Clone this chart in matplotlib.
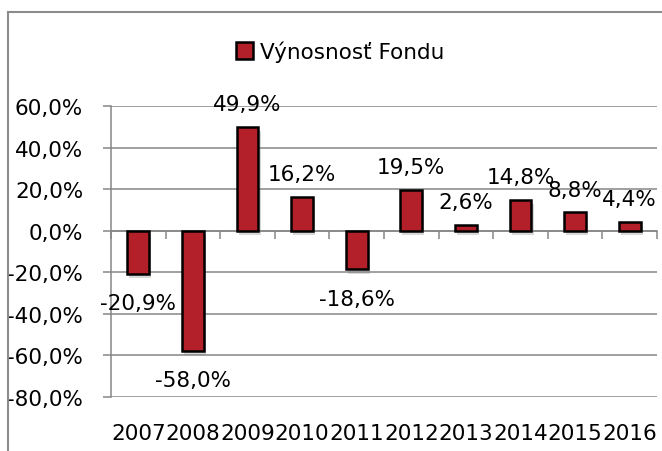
import matplotlib
matplotlib.use("Agg")
import matplotlib.pyplot as plt
import matplotlib.patheffects as pe
from matplotlib.lines import Line2D
import numpy as np

# data
years = ["2007", "2008", "2009", "2010", "2011", "2012", "2013", "2014", "2015", "2016"]
returns = [-20.9, -58.0, 49.9, 16.2, -18.6, 19.5, 2.6, 14.8, 8.8, 4.4]
series_name = "Výnosnosť Fondu"

bar_color = "#B3202A"
grid_color = "#868686"
font_size = 15.5

plt.rcParams["font.family"] = ["DejaVu Sans"]

fig = plt.figure(figsize=(6.62, 4.52), dpi=100)
ax = fig.add_axes([111 / 662, 1 - 398 / 452, (657 - 111) / 662, (398 - 107) / 452])

x = np.arange(len(years))
bars = ax.bar(x, returns, width=0.4, color=bar_color, edgecolor="black",
              linewidth=1.8, label=series_name, zorder=3)
for b in bars:
    b.set_path_effects([pe.SimplePatchShadow(offset=(1.5, -3), shadow_rgbFace="gray", alpha=0.3),
                        pe.Normal()])

# value labels outside the bar ends
for xi, v in zip(x, returns):
    off = 16.5 if v >= 0 else -21
    ax.annotate(f"{v:.1f}%".replace(".", ","), (xi, v), xytext=(0, off),
                textcoords="offset points", ha="center", va="center",
                fontsize=font_size, zorder=4)

ax.set_xlim(-0.5, len(years) - 0.5)
ax.set_ylim(-80, 60)
ax.set_yticks(np.arange(-80, 61, 20))
ax.set_yticklabels([f"{t:.1f}%".replace(".", ",") for t in np.arange(-80, 61, 20)],
                   fontsize=font_size)
ax.tick_params(axis="y", length=6, width=1.1, color=grid_color, pad=14)
ax.yaxis.grid(True, color=grid_color, linewidth=1.1, zorder=0)
ax.set_axisbelow(True)

ax.set_xticks(x)
ax.set_xticklabels(years, fontsize=font_size)
ax.tick_params(axis="x", length=0, pad=19)

for side in ["top", "right", "bottom"]:
    ax.spines[side].set_visible(False)
ax.spines["left"].set_color(grid_color)
ax.spines["left"].set_linewidth(1.1)

# category axis line drawn at zero with tick marks between categories
zero_ax = ax.secondary_xaxis(0, transform=ax.transData)
zero_ax.set_xticks(np.arange(-0.5, len(years), 1.0))
zero_ax.set_xticklabels([])
zero_ax.tick_params(length=6, width=1.1, color=grid_color, direction="out")
zero_ax.spines["bottom"].set_color(grid_color)
zero_ax.spines["bottom"].set_linewidth(1.1)

leg = fig.legend(loc="center", bbox_to_anchor=(0.514, 1 - 52 / 452), frameon=False,
                 fontsize=font_size, handlelength=0.8, handleheight=0.8, handletextpad=0.3)
for h in leg.legend_handles:
    h.set_path_effects([])

# outer chart border
fig.add_artist(Line2D([8 / 662, 8 / 662], [0, 1 - 13 / 452], color="#8c8c8c", linewidth=1.5))
fig.add_artist(Line2D([8 / 662, 1], [1 - 13 / 452, 1 - 13 / 452], color="#8c8c8c", linewidth=1.5))

fig.savefig("out.png", dpi=100)
